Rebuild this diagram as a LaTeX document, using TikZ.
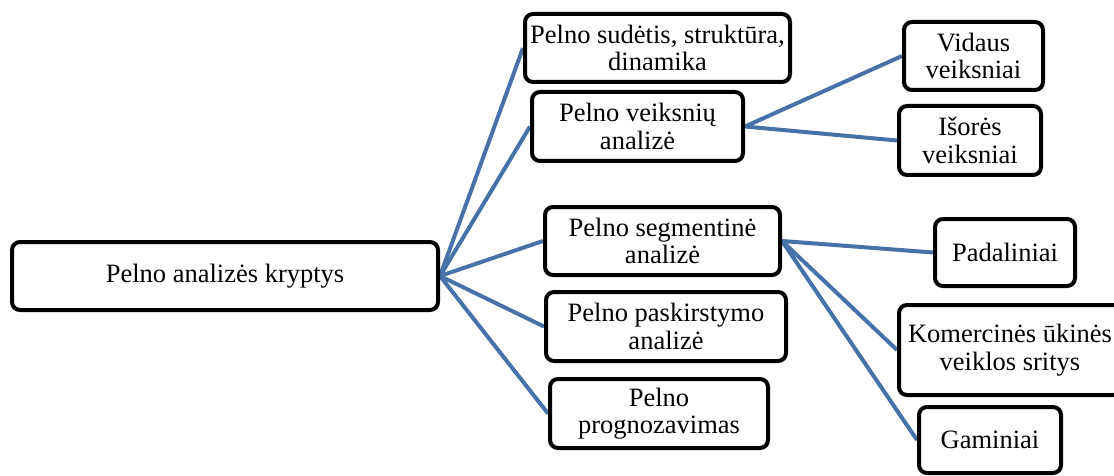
\documentclass[tikz,border=0pt]{standalone}
\usepackage{fontspec}
\setmainfont{Liberation Serif}
\usepackage{tikz}
\usetikzlibrary{backgrounds}
\usepackage{xcolor}
\definecolor{linkblue}{HTML}{4672A8}
\tikzset{
  topic/.style={draw=black,fill=white,line width=4pt,rounded corners=8pt,align=center,
    inner sep=2pt,font=\fontsize{26.5}{27.5}\selectfont},
  link/.style={draw=linkblue,line width=4pt}
}

\begin{document}
\begin{tikzpicture}[x=1pt,y=-1pt]
        \useasboundingbox (0,0) rectangle (1114,476);
        \node[topic,minimum width=426pt,minimum height=68pt] (root) at (225,276) {Pelno analizės kryptys};
        \node[topic,minimum width=265pt,minimum height=68pt] (sud) at (657.5,48) {Pelno sudėtis, struktūra,\\dinamika};
        \node[topic,minimum width=211pt,minimum height=69pt] (veik) at (637.5,126.5) {Pelno veiksnių\\analizė};
        \node[topic,minimum width=139pt,minimum height=68pt] (vid) at (973.5,56) {Vidaus\\veiksniai};
        \node[topic,minimum width=142pt,minimum height=69pt] (iso) at (970,140.5) {Išorės\\veiksniai};
        \node[topic,minimum width=235pt,minimum height=68pt] (seg) at (662.5,241) {Pelno segmentinė\\analizė};
        \node[topic,minimum width=240pt,minimum height=69pt] (pask) at (666,326.5) {Pelno paskirstymo\\analizė};
        \node[topic,minimum width=218pt,minimum height=69pt] (prog) at (659,413.5) {Pelno\\prognozavimas};
        \node[topic,minimum width=140pt,minimum height=67pt] (pad) at (1005,252.5) {Padaliniai};
        \node[topic,minimum width=222pt,minimum height=90pt] (kom) at (1010,350) {Komercinės ūkinės\\veiklos sritys};
        \node[topic,minimum width=142pt,minimum height=66pt] (gam) at (990,440) {Gaminiai};
        \begin{scope}[on background layer]
          \draw[link] (root.east)--(sud.west);
          \draw[link] (root.east)--(veik.west);
          \draw[link] (root.east)--(seg.west);
          \draw[link] (root.east)--(pask.west);
          \draw[link] (root.east)--(prog.west);
          \draw[link] (veik.east)--(vid.west);
          \draw[link] (veik.east)--(iso.west);
          \draw[link] (seg.east)--(pad.west);
          \draw[link] (seg.east)--(kom.west);
          \draw[link] (seg.east)--(gam.west);
        \end{scope}
      \end{tikzpicture}
\end{document}
